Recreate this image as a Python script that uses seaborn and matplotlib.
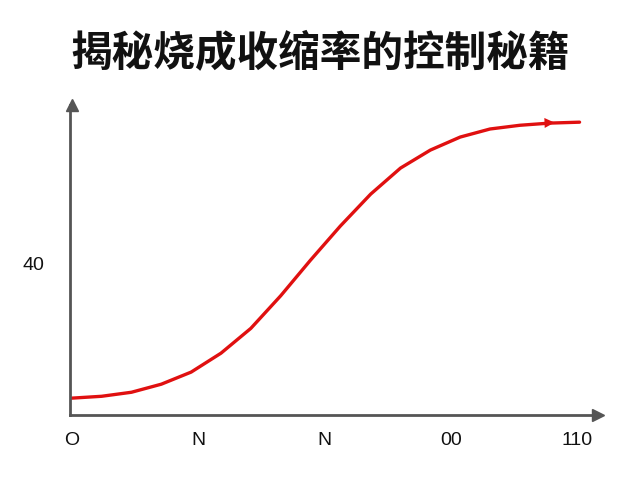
import matplotlib
matplotlib.use("Agg")
import matplotlib.pyplot as plt
import seaborn as sns
import pandas as pd

sns.set_theme(style="white")
plt.rcParams['font.family'] = ['Noto Sans CJK SC', 'DejaVu Sans']

x_vals = [0, 0.59, 1.18, 1.77, 2.36, 2.95, 3.54, 4.13, 4.72, 5.31, 5.91, 6.50, 7.09, 7.68, 8.27, 8.86, 9.45, 10.04]
y_vals = [5.5, 6.1, 7.4, 10.0, 13.9, 20.0, 28.0, 38.5, 50.0, 61.0, 71.3, 79.7, 85.5, 89.7, 92.3, 93.5, 94.2, 94.5]
xtick_pos = [0, 2.5, 5, 7.5, 10]
xtick_labels = ["O", "N", "N", "00", "110"]
ytick_pos = [49]
ytick_labels = ["40"]
title = "揭秘烧成收缩率的控制秘籍"

df = pd.DataFrame({"x": x_vals, "y": y_vals})
fig = plt.figure(figsize=(6.4, 4.8), dpi=100)
ax = fig.add_axes([0.109, 0.135, 0.825, 0.646])
sns.lineplot(data=df, x="x", y="y", ax=ax, color="#e01010", lw=2.4)
ax.annotate("", xy=(9.6, 94.4), xytext=(9.1, 94.1),
            arrowprops=dict(arrowstyle="-|>", color="#e01010", lw=0, mutation_scale=18))
ax.set_xlim(-0.04, 10.4)
ax.set_ylim(0, 100)
for s in ["top", "right"]:
    ax.spines[s].set_visible(False)
for s in ["left", "bottom"]:
    ax.spines[s].set_color("#555555")
    ax.spines[s].set_linewidth(2)
ax.plot(1, 0, ">", transform=ax.transAxes, clip_on=False, color="#555555", ms=9)
ax.plot(0.004, 1, "^", transform=ax.transAxes, clip_on=False, color="#555555", ms=9)
ax.set_xticks(xtick_pos, xtick_labels, fontsize=14, family=['Liberation Sans', 'DejaVu Sans'])
ax.set_yticks(ytick_pos, ytick_labels, fontsize=14, family=['Liberation Sans', 'DejaVu Sans'])
ax.tick_params(axis="x", pad=12, length=0, colors="#111111")
ax.tick_params(axis="y", pad=18, length=0, colors="#111111")
ax.set_xlabel("")
ax.set_ylabel("")
fig.text(0.5, 0.89, title, ha="center", va="center", fontsize=30, fontweight="bold", color="#111111")
fig.savefig("out.png", dpi=100)
